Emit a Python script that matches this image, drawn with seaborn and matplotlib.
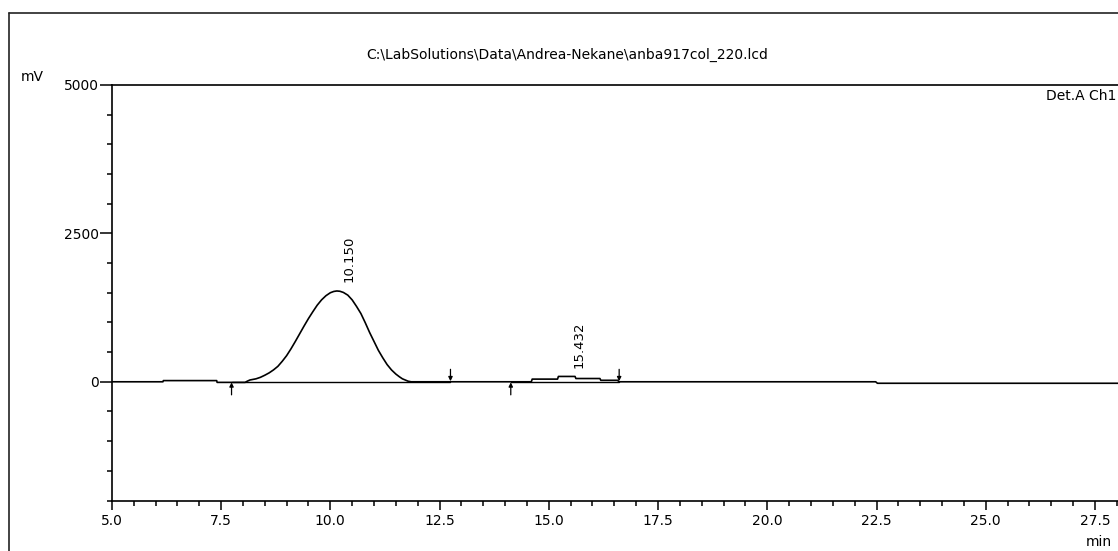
import numpy as np
import pandas as pd
import matplotlib
matplotlib.use("Agg")
import matplotlib.pyplot as plt
from matplotlib.lines import Line2D
from matplotlib.ticker import MultipleLocator, FixedLocator
import seaborn as sns

# chromatogram trace (min, mV)
time_min = [5.00, 6.17, 6.18, 7.40, 7.41, 8.05, 8.10,
            8.16, 8.30, 8.40, 8.50, 8.60, 8.70, 8.80, 8.90, 9.00, 9.10,
            9.20, 9.30, 9.40, 9.50, 9.60, 9.70, 9.80, 9.90, 10.00, 10.08,
            10.15, 10.22, 10.30, 10.40, 10.50, 10.60, 10.70, 10.80, 10.90,
            11.00, 11.10, 11.20, 11.30, 11.40, 11.50, 11.58, 11.65,
            11.78, 11.85,
            14.60, 14.62, 15.20, 15.22, 15.60, 15.62, 16.17, 16.19, 16.58,
            16.60, 22.48, 22.52, 28.10]
signal_mv = [0, 0, 20, 20, -10, -10, 10,
             30, 50, 75, 110, 150, 200, 260, 345, 440, 555,
             680, 810, 940, 1065, 1180, 1290, 1380, 1450, 1500, 1522,
             1530, 1525, 1505, 1460, 1380, 1270, 1150, 995, 830,
             680, 530, 405, 290, 200, 130, 85, 50,
             10, 0,
             0, 45, 45, 90, 90, 55, 55, 25, 25,
             0, 0, -25, -25]

# integration baselines (start, end)
baseline_start = [7.74, 14.13]
baseline_end = [12.75, 16.61]

# peak labels
peak_rt = [10.150, 15.432]
peak_height = [1530, 90]
peak_labels = ["10.150", "15.432"]

# integration event markers
event_time = [7.74, 12.75, 14.13, 16.61]
event_dir = ["up", "down", "up", "down"]

sns.set_style("ticks")
plt.rcParams["font.family"] = ["DejaVu Sans"]
plt.rcParams["text.color"] = "black"
plt.rcParams["xtick.color"] = "black"
plt.rcParams["ytick.color"] = "black"

fig = plt.figure(figsize=(11.18, 5.51), dpi=100)
ax = fig.add_axes([111.8 / 1118, 50.5 / 551, 1 - 111.8 / 1118, 415.5 / 551])

df = pd.DataFrame({"time": time_min, "signal": signal_mv})
sns.lineplot(data=df, x="time", y="signal", ax=ax, color="black", lw=1.2,
             sort=False, estimator=None)

for s, e in zip(baseline_start, baseline_end):
    ax.plot([s, e], [0, 0], color="black", lw=1.0)

for t, d in zip(event_time, event_dir):
    if d == "down":
        ax.annotate("", xy=(t, 10), xytext=(t, 210),
                    arrowprops=dict(arrowstyle="-|>", lw=0.9, color="black",
                                    mutation_scale=6, shrinkA=0, shrinkB=0))
    else:
        ax.annotate("", xy=(t, -10), xytext=(t, -220),
                    arrowprops=dict(arrowstyle="-|>", lw=0.9, color="black",
                                    mutation_scale=6, shrinkA=0, shrinkB=0))

for rt, h, lab in zip(peak_rt, peak_height, peak_labels):
    ax.text(rt + 0.27, h + 150, lab, rotation=90, ha="center", va="bottom",
            fontsize=9.5, color="black")

ax.set_xlim(5.0, 5.0 + (1118 - 111.8) / 43.7)
ax.set_ylim(-2000, 5000)
ax.xaxis.set_major_locator(MultipleLocator(2.5))
ax.xaxis.set_minor_locator(MultipleLocator(0.5))
ax.yaxis.set_major_locator(FixedLocator([0, 2500, 5000]))
ax.yaxis.set_minor_locator(MultipleLocator(500))
ax.set_xticks([5.0, 7.5, 10.0, 12.5, 15.0, 17.5, 20.0, 22.5, 25.0, 27.5])
ax.set_xticklabels(["5.0", "7.5", "10.0", "12.5", "15.0", "17.5", "20.0",
                    "22.5", "25.0", "27.5"])
ax.set_xlabel("")
ax.set_ylabel("")
ax.tick_params(axis="x", which="major", direction="out", length=6.5, width=1.1,
               pad=3, labelsize=10)
ax.tick_params(axis="x", which="minor", direction="out", length=3.5, width=1.1)
ax.tick_params(axis="y", which="major", direction="out", length=8.5, width=1.1,
               pad=0.5, labelsize=10)
ax.tick_params(axis="y", which="minor", direction="out", length=3.5, width=1.1)
for side in ["left", "bottom", "top"]:
    ax.spines[side].set_linewidth(1.2)
    ax.spines[side].set_color("black")
ax.spines["right"].set_visible(False)

# outer frame
fig.add_artist(Line2D([9 / 1118, 9 / 1118], [0, 1 - 12.5 / 551],
                      transform=fig.transFigure, color="#222222", lw=1.2))
fig.add_artist(Line2D([9 / 1118, 1], [1 - 12.5 / 551, 1 - 12.5 / 551],
                      transform=fig.transFigure, color="#222222", lw=1.2))

fig.text(567 / 1118, 1 - 55 / 551,
         "C:\\LabSolutions\\Data\\Andrea-Nekane\\anba917col_220.lcd",
         ha="center", va="center", fontsize=10)
fig.text(21 / 1118, 1 - 77 / 551, "mV", ha="left", va="center", fontsize=10)
fig.text(1116 / 1118, 1 - 96 / 551, "Det.A Ch1", ha="right", va="center",
         fontsize=10)
fig.text(1086 / 1118, 1 - 542 / 551, "min", ha="left", va="center",
         fontsize=10)

fig.savefig("out.png", dpi=100)
